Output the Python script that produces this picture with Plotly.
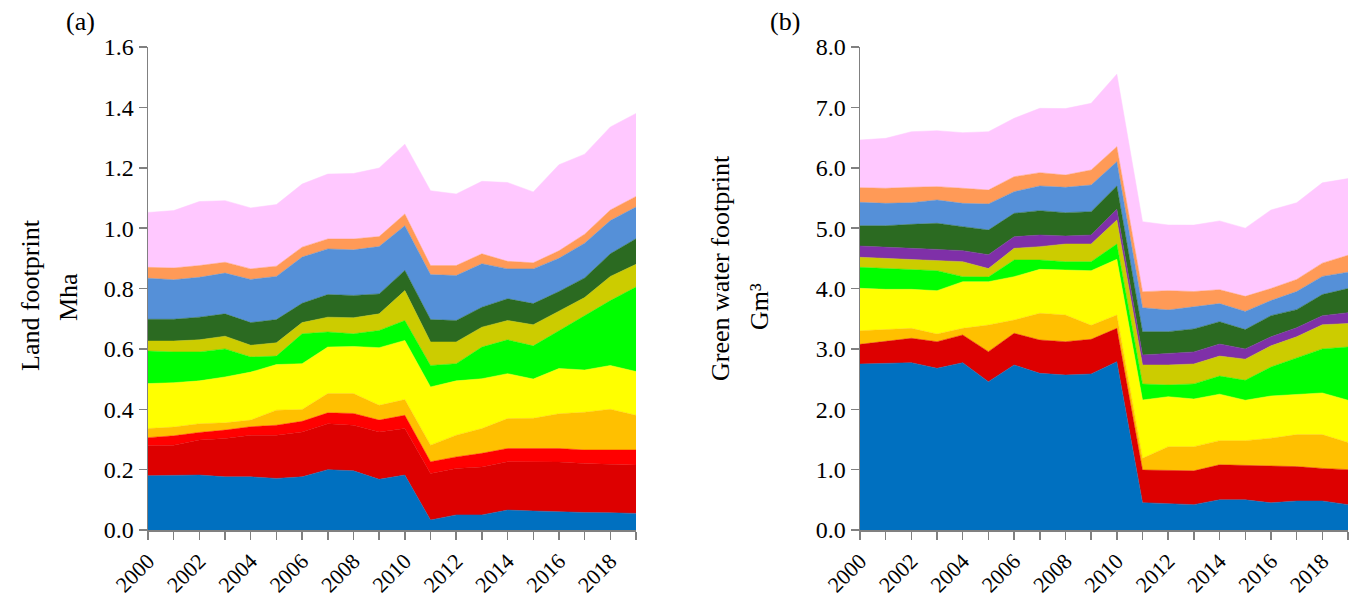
import plotly.graph_objects as go

years = list(range(2000, 2020))
tick_text = [str(y) if y % 2 == 0 else "" for y in years]

layer_names = ["Blue", "Dark red", "Red", "Orange", "Yellow", "Green", "Olive",
               "Purple", "Dark green", "Steel blue", "Salmon", "Pink"]
layer_colors = {
    "Blue": "#0070C0", "Dark red": "#DD0000", "Red": "#FF0000", "Orange": "#FFC000",
    "Yellow": "#FFFF00", "Green": "#00FF00", "Olive": "#CCCC00", "Purple": "#7F30A8",
    "Dark green": "#2B6A21", "Steel blue": "#5590D8", "Salmon": "#FF9A57", "Pink": "#FFC8FF",
}

# Panel (a): upper edge of each stacked band (Mha), 2000-2019
land_tops = {
    "Blue":       [0.180, 0.182, 0.182, 0.176, 0.176, 0.171, 0.176, 0.200, 0.196, 0.168, 0.182, 0.033, 0.050, 0.050, 0.066, 0.063, 0.060, 0.058, 0.057, 0.055],
    "Dark red":   [0.279, 0.281, 0.298, 0.303, 0.314, 0.314, 0.325, 0.352, 0.347, 0.325, 0.336, 0.187, 0.204, 0.209, 0.226, 0.225, 0.225, 0.220, 0.218, 0.215],
    "Red":        [0.306, 0.312, 0.323, 0.331, 0.342, 0.347, 0.360, 0.388, 0.386, 0.364, 0.380, 0.226, 0.242, 0.254, 0.270, 0.270, 0.270, 0.265, 0.265, 0.265],
    "Orange":     [0.336, 0.341, 0.352, 0.355, 0.364, 0.397, 0.399, 0.452, 0.452, 0.413, 0.432, 0.281, 0.314, 0.336, 0.369, 0.370, 0.385, 0.390, 0.400, 0.380],
    "Yellow":     [0.485, 0.488, 0.494, 0.507, 0.523, 0.548, 0.551, 0.606, 0.608, 0.604, 0.628, 0.474, 0.494, 0.501, 0.518, 0.500, 0.535, 0.530, 0.545, 0.525],
    "Green":      [0.593, 0.590, 0.590, 0.600, 0.573, 0.576, 0.650, 0.656, 0.650, 0.661, 0.694, 0.545, 0.551, 0.606, 0.630, 0.610, 0.660, 0.710, 0.760, 0.805],
    "Olive":      [0.626, 0.626, 0.630, 0.642, 0.612, 0.620, 0.687, 0.705, 0.703, 0.716, 0.793, 0.623, 0.623, 0.672, 0.694, 0.680, 0.725, 0.770, 0.840, 0.880],
    "Dark green": [0.698, 0.698, 0.705, 0.716, 0.687, 0.697, 0.751, 0.780, 0.777, 0.782, 0.860, 0.697, 0.694, 0.738, 0.766, 0.750, 0.790, 0.835, 0.915, 0.965],
    "Steel blue": [0.834, 0.829, 0.837, 0.851, 0.830, 0.840, 0.904, 0.931, 0.928, 0.939, 1.008, 0.846, 0.843, 0.882, 0.865, 0.865, 0.900, 0.950, 1.025, 1.070],
    "Salmon":     [0.870, 0.868, 0.876, 0.887, 0.865, 0.874, 0.937, 0.964, 0.964, 0.972, 1.047, 0.876, 0.876, 0.915, 0.890, 0.885, 0.925, 0.980, 1.060, 1.105],
    "Pink":       [1.052, 1.058, 1.088, 1.091, 1.067, 1.078, 1.146, 1.179, 1.181, 1.199, 1.278, 1.124, 1.113, 1.155, 1.151, 1.120, 1.210, 1.245, 1.335, 1.380],
}

# Panel (b): upper edge of each stacked band (Gm3), 2000-2019
water_tops = {
    "Blue":       [2.749, 2.760, 2.771, 2.678, 2.771, 2.457, 2.733, 2.595, 2.567, 2.584, 2.788, 0.453, 0.431, 0.420, 0.500, 0.500, 0.450, 0.480, 0.480, 0.420],
    "Dark red":   [3.075, 3.119, 3.175, 3.119, 3.230, 2.954, 3.258, 3.147, 3.119, 3.158, 3.340, 0.994, 0.983, 0.980, 1.080, 1.070, 1.050, 1.050, 1.020, 1.000],
    "Orange":     [3.300, 3.324, 3.340, 3.246, 3.340, 3.395, 3.478, 3.589, 3.561, 3.390, 3.561, 1.187, 1.380, 1.380, 1.480, 1.480, 1.520, 1.580, 1.580, 1.450],
    "Yellow":     [4.003, 3.986, 3.986, 3.964, 4.113, 4.113, 4.196, 4.317, 4.306, 4.295, 4.483, 2.153, 2.208, 2.170, 2.250, 2.150, 2.220, 2.250, 2.270, 2.150],
    "Green":      [4.351, 4.334, 4.306, 4.295, 4.196, 4.190, 4.472, 4.472, 4.444, 4.444, 4.737, 2.418, 2.402, 2.420, 2.550, 2.480, 2.700, 2.850, 3.000, 3.030],
    "Olive":      [4.517, 4.500, 4.489, 4.472, 4.444, 4.330, 4.665, 4.693, 4.737, 4.737, 5.134, 2.733, 2.733, 2.750, 2.880, 2.830, 3.050, 3.200, 3.400, 3.420],
    "Purple":     [4.704, 4.680, 4.666, 4.648, 4.627, 4.560, 4.858, 4.886, 4.870, 4.886, 5.311, 2.899, 2.926, 2.950, 3.080, 3.000, 3.200, 3.350, 3.550, 3.600],
    "Dark green": [5.040, 5.040, 5.063, 5.080, 5.024, 4.969, 5.245, 5.289, 5.256, 5.273, 5.698, 3.285, 3.285, 3.330, 3.450, 3.320, 3.550, 3.650, 3.900, 4.000],
    "Steel blue": [5.427, 5.410, 5.421, 5.466, 5.410, 5.400, 5.604, 5.698, 5.676, 5.714, 6.100, 3.682, 3.644, 3.700, 3.750, 3.620, 3.800, 3.950, 4.200, 4.270],
    "Salmon":     [5.670, 5.660, 5.676, 5.687, 5.660, 5.631, 5.852, 5.918, 5.880, 5.963, 6.349, 3.947, 3.964, 3.950, 3.980, 3.870, 4.000, 4.150, 4.420, 4.550],
    "Pink":       [6.460, 6.487, 6.597, 6.614, 6.581, 6.597, 6.819, 6.984, 6.980, 7.067, 7.550, 5.107, 5.052, 5.050, 5.120, 5.000, 5.300, 5.420, 5.750, 5.820],
}

W, H = 1351, 599
FONT = "Liberation Serif"

fig = go.Figure()

def add_panel(tops, xa, ya):
    first = True
    for name in layer_names:
        if name not in tops:
            continue
        fig.add_trace(go.Scatter(
            x=years, y=tops[name], mode="lines", name=name,
            line=dict(width=0.5, color=layer_colors[name]),
            fill="tozeroy" if first else "tonexty",
            fillcolor=layer_colors[name],
            xaxis=xa, yaxis=ya, showlegend=False, hoverinfo="skip",
        ))
        first = False

add_panel(land_tops, "x", "y")
add_panel(water_tops, "x2", "y2")

def px(x):
    return x / W

def py(y):
    return 1 - y / H

y_bot, y_top = 530, 47
axis_common = dict(
    showline=True, linecolor="#808080", linewidth=1.5,
    ticks="outside", ticklen=8, tickwidth=1.5, tickcolor="#808080",
    showgrid=False, zeroline=False, automargin=False,
)
ytick_font = dict(family=FONT, size=24, color="black")
xtick_font = dict(family=FONT, size=22, color="black")

fig.update_layout(
    width=W, height=H,
    margin=dict(l=0, r=0, t=0, b=0, autoexpand=False),
    paper_bgcolor="white", plot_bgcolor="white",
    xaxis=dict(domain=[px(148), px(636)], range=[2000, 2019], tickvals=years,
               ticktext=tick_text, tickangle=-45, anchor="y", tickfont=xtick_font,
               **axis_common),
    yaxis=dict(domain=[py(y_bot), py(y_top)], range=[0, 1.6], dtick=0.2,
               tickformat=".1f", anchor="x", tickfont=ytick_font, **axis_common),
    xaxis2=dict(domain=[px(860), px(1348)], range=[2000, 2019], tickvals=years,
                ticktext=tick_text, tickangle=-45, anchor="y2", tickfont=xtick_font,
                **axis_common),
    yaxis2=dict(domain=[py(y_bot), py(y_top)], range=[0, 8], dtick=1,
                tickformat=".1f", anchor="x2", tickfont=ytick_font, **axis_common),
)

ann_font = dict(family=FONT, size=26, color="black")

def label(text, x, y, angle=0):
    return dict(text=text, x=px(x), y=py(y), xref="paper", yref="paper",
                xanchor="center", yanchor="middle", showarrow=False,
                textangle=angle, font=ann_font)

fig.update_layout(annotations=[
    label("(a)", 80, 22),
    label("Land footprint", 30, 295, -90),
    label("Mha", 68, 297, -90),
    label("(b)", 785, 22),
    label("Green water footprint", 720, 268, -90),
    label("Gm³", 760, 307, -90),
])

fig.write_html(
    "out.html",
    config={"displayModeBar": False, "staticPlot": True},
    post_script="document.body.style.margin='0';document.body.style.overflow='hidden';",
)
